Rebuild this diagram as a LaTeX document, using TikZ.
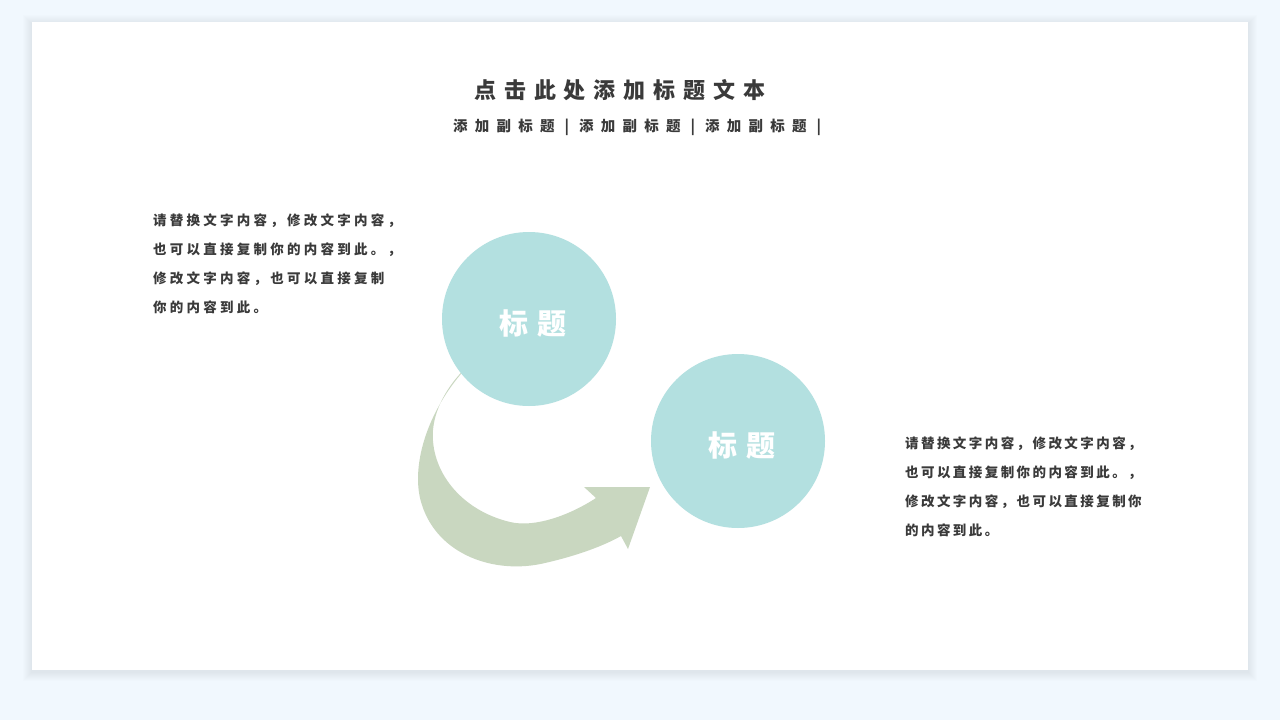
\documentclass[tikz,border=0pt]{standalone}
\usepackage{fontspec}
\newfontfamily\cjk{Noto Sans CJK SC}
\definecolor{bgblue}{HTML}{F1F8FE}
\definecolor{circ}{HTML}{B3E0E0}
\definecolor{arrowc}{HTML}{C9D7C0}
\definecolor{txt}{HTML}{3A3A3A}
\tikzset{
  line/.style={anchor=west, inner sep=0pt, text=txt},
  titletext/.style={line, font=\cjk\bfseries\fontsize{22}{26}\selectfont\addfontfeature{LetterSpace=36}},
  subtext/.style={line, font=\cjk\bfseries\fontsize{14.5}{18}\selectfont\addfontfeature{LetterSpace=50}},
  bodyleft/.style={line, font=\cjk\bfseries\fontsize{13.5}{15}\selectfont\addfontfeature{LetterSpace=24}},
  bodyright/.style={line, font=\cjk\bfseries\fontsize{13.5}{15}\selectfont\addfontfeature{LetterSpace=18}},
  bubble/.style={circle, fill=circ, minimum size=174pt, inner sep=0pt, text=white,
    font=\cjk\bfseries\fontsize{29}{32}\selectfont\addfontfeature{LetterSpace=30}},
}
\newcommand{\sepbar}{\kern10pt|\kern10pt}
\begin{document}
\begin{tikzpicture}[x=1pt,y=-1pt]
\useasboundingbox (0,0) rectangle (1280,720);
\fill[bgblue] (0,0) rectangle (1280,720);
% card shadow
\foreach \i in {1,...,9} {
  \fill[black, opacity=0.009] (32-\i,22-\i+2) rectangle (1248+\i,670+\i+2);
}
\fill[white] (32,22) rectangle (1248,670);

% title and subtitle
\node[titletext] (title) at (474,90) {点击此处添加标题文本};
\node[subtext] (sub) at (453,127) {添加副标题\sepbar 添加副标题\sepbar 添加副标题\kern10pt|};

% left text
\node[bodyleft] (l1) at (153,221) {请替换文字内容，修改文字内容，};
\node[bodyleft] (l2) at (153,250) {也可以直接复制你的内容到此。，};
\node[bodyleft] (l3) at (153,279) {修改文字内容，也可以直接复制};
\node[bodyleft] (l4) at (153,307) {你的内容到此。};

% right text
\node[bodyright] (r1) at (905,444) {请替换文字内容，修改文字内容，};
\node[bodyright] (r2) at (905,473) {也可以直接复制你的内容到此。，};
\node[bodyright] (r3) at (905,502) {修改文字内容，也可以直接复制你};
\node[bodyright] (r4) at (905,530) {的内容到此。};

% curved arrow
\fill[arrowc] (468,366) .. controls (425,412) and (410,470) .. (422,505)
  .. controls (438,555) and (495,575) .. (545,563)
  .. controls (580,555) and (605,545) .. (621,536)
  -- (628,549) -- (650,487) -- (584,487) -- (596,498)
  .. controls (570,515) and (535,528) .. (510,522)
  .. controls (460,510) and (430,470) .. (433,430)
  .. controls (435,405) and (452,380) .. (468,366) -- cycle;

% circles
\node[bubble] (c1) at (529,319) {};
\node[bubble] (c2) at (738,441) {};
\node[bubble, fill=none, anchor=center] (t1) at (531,323) {\hspace{4pt}标题};
\node[bubble, fill=none, anchor=center] (t2) at (740,445) {\hspace{4pt}标题};
\end{tikzpicture}
\end{document}
